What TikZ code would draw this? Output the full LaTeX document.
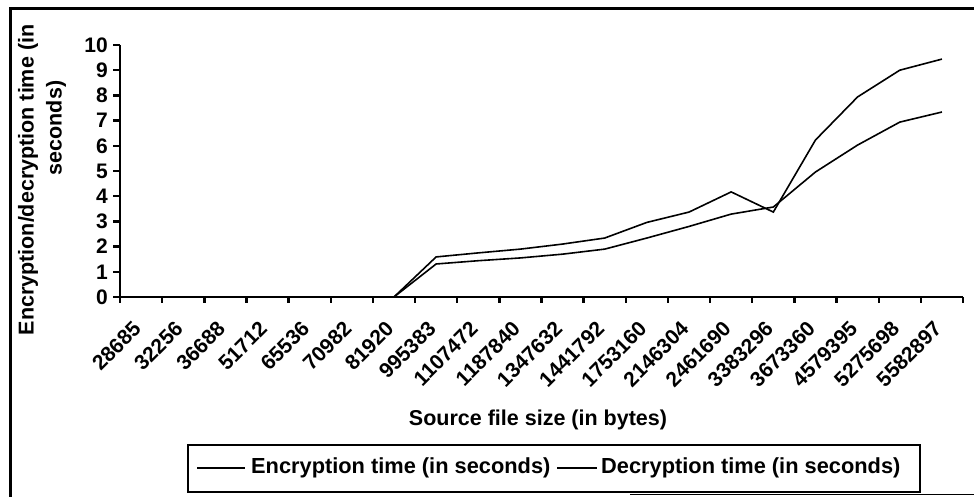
\documentclass[tikz,border=0pt]{standalone}
\usepackage{fontspec}
\setmainfont{Liberation Sans}
\usetikzlibrary{positioning}

\tikzset{
  axisline/.style={line width=2.4pt},
  serie/.style={line width=1.6pt, line join=miter},
  ticklbl/.style={font=\fontsize{21}{24}\selectfont\bfseries, inner sep=0pt},
  titlelbl/.style={font=\fontsize{21.5}{25}\selectfont\bfseries, inner sep=0pt},
  legtext/.style={font=\fontsize{21.8}{25}\selectfont\bfseries, inner sep=0pt}
}

\begin{document}
\begin{tikzpicture}[x=1pt,y=1pt]
  \useasboundingbox (0,0) rectangle (974,497);
  % frame of the chart
  \draw[line width=3pt] (10,0) |- (974,488);
  \draw[line width=1pt] (630,2) -- (974,2);

  \begin{scope}[shift={(120,200)}, x=42.15pt, y=25.2pt]
    \coordinate (o) at (0,0);
    \coordinate (xend) at (20,0);
    \coordinate (yend) at (0,10);
    \draw[axisline] (yend) -- (o) -- (xend);
    % y ticks
    \foreach \v in {0,...,10} {
      \coordinate (yt\v) at (0,\v);
      \draw[axisline] (yt\v) -- ++(-7pt,0);
      \node[ticklbl, left=12pt of yt\v] (yl\v) {\v};
    }
    % x ticks and categories
    \draw[axisline] (o) -- ++(0,-6pt);
    \foreach \lab [count=\i] in {28685,32256,36688,51712,65536,70982,81920,995383,1107472,1187840,1347632,1441792,1753160,2146304,2461690,3383296,3673360,4579395,5275698,5582897} {
      \coordinate (xt\i) at (\i,0);
      \coordinate (xc\i) at (\i-0.5,0);
      \draw[axisline] (xt\i) -- ++(0,-6pt);
      \node[ticklbl, rotate=45, anchor=east] (xl\i) at ([shift={(-4pt,-28pt)}]xc\i) {\lab};
    }
    % encryption
    \draw[serie] plot coordinates {(0.5,0) (1.5,0) (2.5,0) (3.5,0) (4.5,0) (5.5,0) (6.5,0)
      (7.5,1.59) (8.5,1.75) (9.5,1.9) (10.5,2.1) (11.5,2.34) (12.5,2.96) (13.5,3.37)
      (14.5,4.17) (15.5,3.37) (16.5,6.23) (17.5,7.94) (18.5,9.0) (19.5,9.44)};
    % decryption
    \draw[serie] plot coordinates {(0.5,0) (1.5,0) (2.5,0) (3.5,0) (4.5,0) (5.5,0) (6.5,0)
      (7.5,1.31) (8.5,1.44) (9.5,1.55) (10.5,1.7) (11.5,1.9) (12.5,2.34) (13.5,2.8)
      (14.5,3.29) (15.5,3.57) (16.5,4.96) (17.5,6.03) (18.5,6.94) (19.5,7.34)};
  \end{scope}

  % axis titles
  \node[titlelbl, rotate=90] (ytitle) at (28,317) {Encryption/decryption time (in};
  \node[titlelbl, rotate=90] (ytitle2) at (56,369) {seconds)};
  \node[titlelbl] (xtitle) at (538,77) {Source file size (in bytes)};

  % legend
  \node[draw, line width=2.5pt, minimum width=732pt, minimum height=47pt, inner sep=0pt] (legend) at (554,28.5) {};
  \coordinate (encA) at (197,29);
  \coordinate[right=48pt of encA] (encB);
  \node[legtext, right=6pt of encB] (enctext) {Encryption time (in seconds)};
  \draw[serie] (encA) -- (encB);
  \coordinate (decA) at (557,29);
  \coordinate[right=40pt of decA] (decB);
  \node[legtext, right=4pt of decB] (dectext) {Decryption time (in seconds)};
  \draw[serie] (decA) -- (decB);
\end{tikzpicture}
\end{document}
